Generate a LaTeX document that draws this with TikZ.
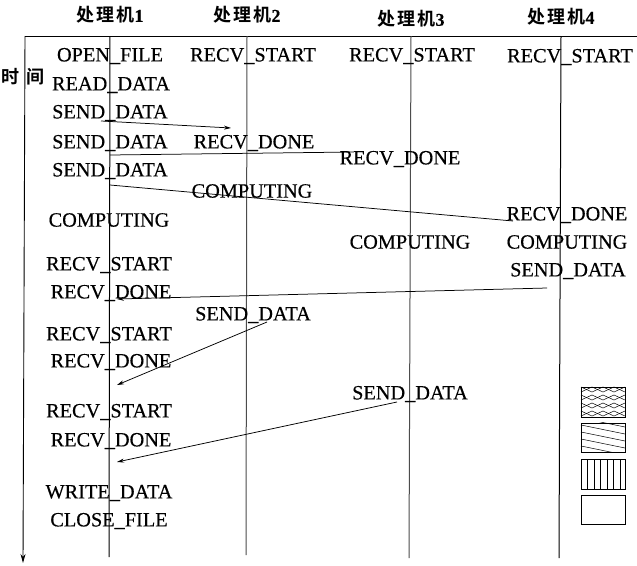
\documentclass[tikz,border=0pt]{standalone}
\usepackage{fontspec}
\setmainfont{Liberation Serif}[FakeBold=0.35]
\newfontfamily\cjk{Noto Sans CJK SC}[BoldFont=* Bold]
\usetikzlibrary{arrows.meta}
\newcommand\lblfont{\fontsize{20.3}{20.3}\selectfont}
\newcommand\hdrfont{\fontsize{18}{18}\selectfont}
\tikzset{
  lbl/.style={font=\lblfont, inner sep=0pt, anchor=center},
  hdr/.style={font=\hdrfont, inner sep=0pt, anchor=center},
  life/.style={line width=1pt},
  lifegrey/.style={line width=1pt, draw=black!70},
  msg/.style={line width=0.75pt, -{Stealth[length=7pt,width=4pt]}},
  msgplain/.style={line width=0.75pt},
  legbox/.style={line width=0.8pt},
  hatch/.style={line width=0.5pt}
}
\newcommand\hd[1]{{\cjk\bfseries 处\hspace{2pt}理\hspace{2pt}机}{\rmfamily\bfseries #1}}
\begin{document}
\begin{tikzpicture}[x=1pt,y=-1pt]
\useasboundingbox (0,0) rectangle (637,565);
\fill[white] (0,0) rectangle (637,565);

% frame: top line and time arrow
\coordinate (topL) at (25,36);
\coordinate (topR) at (637,36);
\coordinate (timeEnd) at (23,563);
\draw[line width=0.9pt] (topL) -- (topR);
\draw[line width=0.9pt, -{Stealth[length=9pt,width=5pt]}] (topL) -- (timeEnd);

% headers
\node[hdr] (h1) at (110,15) {\hd{1}};
\node[hdr] (h2) at (247,15) {\hd{2}};
\node[hdr] (h3) at (411,19) {\hd{3}};
\node[hdr] (h4) at (561,17) {\hd{4}};
\node[hdr] (time) at (23,77) {\cjk\bfseries 时\hspace{7pt}间};

% lifelines
\coordinate (l1t) at (110,36); \coordinate (l1b) at (109,557);
\coordinate (l2t) at (247,36); \coordinate (l2b) at (246,555);
\coordinate (l3t) at (411,36); \coordinate (l3b) at (409,558);
\coordinate (l4t) at (561,36); \coordinate (l4b) at (559,558);
\draw[life] (l1t) -- (l1b);
\draw[lifegrey] (l2t) -- (l2b);
\draw[lifegrey] (l3t) -- (l3b);
\draw[life] (l4t) -- (l4b);

% processor 1 labels
\node[lbl] (a1) at (110,56) {OPEN\_FILE};
\node[lbl] (a2) at (111,85) {READ\_DATA};
\node[lbl] (a3) at (110,113) {SEND\_DATA};
\node[lbl] (a4) at (110,143) {SEND\_DATA};
\node[lbl] (a5) at (110,171) {SEND\_DATA};
\node[lbl] (a6) at (109,220) {COMPUTING};
\node[lbl] (a7) at (109,265) {RECV\_START};
\node[lbl] (a8) at (111,293) {RECV\_DONE};
\node[lbl] (a9) at (109,335) {RECV\_START};
\node[lbl] (a10) at (111,362) {RECV\_DONE};
\node[lbl] (a11) at (109,412) {RECV\_START};
\node[lbl] (a12) at (111,441) {RECV\_DONE};
\node[lbl] (a13) at (109,493) {WRITE\_DATA};
\node[lbl] (a14) at (109,521) {CLOSE\_FILE};

% processor 2 labels
\node[lbl] (b1) at (253,56) {RECV\_START};
\node[lbl] (b2) at (254,143) {RECV\_DONE};
\node[lbl] (b3) at (252,191) {COMPUTING};
\node[lbl] (b4) at (253,315) {SEND\_DATA};

% processor 3 labels
\node[lbl] (c1) at (412,56) {RECV\_START};
\node[lbl] (c2) at (400,159) {RECV\_DONE};
\node[lbl] (c3) at (410,242) {COMPUTING};
\node[lbl] (c4) at (410,394) {SEND\_DATA};

% processor 4 labels
\node[lbl] (d1) at (570,57) {RECV\_START};
\node[lbl] (d2) at (567,215) {RECV\_DONE};
\node[lbl] (d3) at (567,242) {COMPUTING};
\node[lbl] (d4) at (568,271) {SEND\_DATA};

% message end points
\coordinate (m1s) at (101,121); \coordinate (m1e) at (231,128);
\coordinate (m2s) at (110,155); \coordinate (m2e) at (354,152);
\coordinate (m3s) at (110,185); \coordinate (m3e) at (513,221);
\coordinate (m4s) at (547,288); \coordinate (m4e) at (117,299);
\coordinate (m5s) at (267,322); \coordinate (m5e) at (117,385);
\coordinate (m6s) at (397,402); \coordinate (m6e) at (117,462);

\draw[msg] (m1s) -- (m1e);
\draw[msgplain] (m2s) -- (m2e);
\draw[msgplain] (m3s) -- (m3e);
\draw[msg] (m4s) -- (m4e);
\draw[msg] (m5s) -- (m5e);
\draw[msg] (m6s) -- (m6e);

% legend boxes
\node[legbox, draw, minimum width=44pt, minimum height=30pt, inner sep=0pt] (k1) at (603,402) {};
\node[legbox, draw, minimum width=44pt, minimum height=29pt, inner sep=0pt] (k2) at (603,437.5) {};
\node[legbox, draw, minimum width=44pt, minimum height=30pt, inner sep=0pt] (k3) at (603,474) {};
\node[legbox, draw, minimum width=44pt, minimum height=29pt, inner sep=0pt] (k4) at (603,509.5) {};

\begin{scope}
  \clip (k1.north west) rectangle (k1.south east);
  \foreach \y in {387,395,403,411} {
    \draw[hatch] (581,\y) -- (592,\y+5) -- (603,\y) -- (614,\y+5) -- (625,\y);
    \draw[hatch] (581,\y+5) -- (592,\y) -- (603,\y+5) -- (614,\y) -- (625,\y+5);
  }
\end{scope}
\begin{scope}
  \clip (k2.north west) rectangle (k2.south east);
  \foreach \y in {418,425,432,439,446} {
    \draw[hatch] (581,\y) -- (625,\y+9);
  }
\end{scope}
\begin{scope}
  \clip (k3.north west) rectangle (k3.south east);
  \foreach \x in {587.5,594,600.5,607,613.5,620} {
    \draw[hatch] (\x,459) -- (\x,489);
  }
\end{scope}
\end{tikzpicture}
\end{document}
